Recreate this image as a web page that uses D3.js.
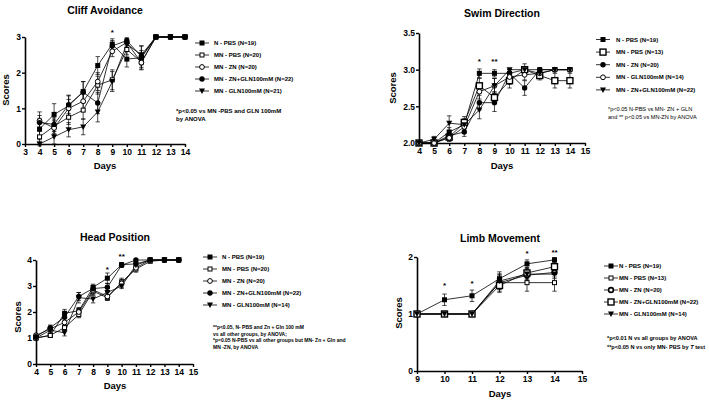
<!DOCTYPE html>
<html><head><meta charset="utf-8">
<script src="https://cdn.jsdelivr.net/npm/d3@7"></script>
<style>
body{margin:0;background:#fff;}
svg{font-family:"Liberation Sans",Arial,sans-serif;}
</style></head><body>
<svg id="c" width="709" height="400"></svg>
<script>
// ---------- DATA ----------
// Cliff Avoidance
const cliffDays = [4,5,6,7,8,9,10,11,12,13,14];
const cliffXTicks = [3,4,5,6,7,8,9,10,11,12,13,14];
const cliffYTicks = [0,1,2,3];
const cliffNames = ["N - PBS (N=19)","MN - PBS (N=20)","MN - ZN (N=20)","MN - ZN+GLN100mM (N=22)","MN - GLN100mM (N=21)"];
const cliffNPBS     = [0.42,0.83,1.07,1.47,2.20,2.80,2.38,2.42,3,3,3];
const cliffNPBSErr  = [0.30,0.30,0.30,0.28,0.25,0.15,0.22,0.20,0,0,0];
const cliffMNPBS    = [0.20,0.50,0.75,0.95,1.65,1.80,2.65,2.30,3,3,3];
const cliffMNPBSErr = [0.15,0.20,0.20,0.25,0.25,0.28,0.15,0.20,0,0,0];
const cliffZN       = [0.65,0.45,1.00,1.20,1.75,2.60,2.85,2.28,3,3,3];
const cliffZNErr    = [0.25,0.20,0.25,0.25,0.25,0.15,0.10,0.20,0,0,0];
const cliffZNGLN    = [0.60,0.55,1.10,1.45,1.15,2.75,2.90,2.45,3,3,3];
const cliffZNGLNErr = [0.20,0.20,0.25,0.30,0.30,0.15,0.08,0.30,0,0,0];
const cliffGLN      = [0.00,0.20,0.40,0.48,0.90,1.75,2.80,2.50,3,3,3];
const cliffGLNErr   = [0.05,0.20,0.20,0.22,0.28,0.28,0.10,0.25,0,0,0];
const cliffStars = [{day:9,text:"*",v:3.05}];
const cliffNote = ["*p<0.05 vs MN -PBS and GLN 100mM","by ANOVA"];

// Swim Direction
const swimDays = [4,5,6,7,8,9,10,11,12,13,14];
const swimXTicks = [4,5,6,7,8,9,10,11,12,13,14,15];
const swimYTicks = [2.0,2.5,3.0,3.5];
const swimNames = ["N - PBS (N=19)","MN - PBS (N=13)","MN - ZN (N=20)","MN - GLN100mM (N=14)","MN - ZN+GLN100mM (N=22)"];
const swimNPBS     = [2.00,2.00,2.15,2.25,2.95,2.95,2.95,3.00,3.00,3.00,3.00];
const swimNPBSErr  = [0,0.04,0.06,0.06,0.06,0.05,0.05,0,0,0,0];
const swimMNPBS    = [2.00,2.00,2.08,2.28,2.78,2.62,2.85,3.00,2.92,2.85,2.85];
const swimMNPBSErr = [0,0,0.05,0.08,0.10,0.08,0.10,0.08,0.06,0.10,0.10];
const swimZN       = [2.00,2.00,2.10,2.15,2.55,2.55,2.95,2.75,3.00,3.00,3.00];
const swimZNErr    = [0,0,0.05,0.06,0.10,0.12,0.05,0.10,0,0,0];
const swimGLN      = [2.00,2.00,2.07,2.22,2.70,2.78,2.90,2.93,2.95,3.00,3.00];
const swimGLNErr   = [0,0,0.05,0.08,0.10,0.10,0.10,0.07,0.05,0,0];
const swimZNGLN    = [2.00,2.05,2.27,2.25,2.45,2.78,3.00,3.00,2.95,3.00,3.00];
const swimZNGLNErr = [0,0.04,0.10,0.08,0.12,0.10,0,0,0.05,0,0];
const swimStars = [{day:8,text:"*",v:3.08},{day:9,text:"**",v:3.08}];
const swimNote = ["*p<0.05 N-PBS vs MN- ZN + GLN","and  ** p<0.05 vs MN-ZN by ANOVA"];

// Head Position
const headDays = [4,5,6,7,8,9,10,11,12,13,14];
const headXTicks = [4,5,6,7,8,9,10,11,12,13,14,15];
const headYTicks = [0,1,2,3,4];
const headNames = ["N - PBS (N=19)","MN - PBS (N=20)","MN - ZN (N=20)","MN - ZN+GLN100mM (N=22)","MN - GLN100mM (N=14)"];
const headNPBS     = [1.00,1.10,1.95,2.05,2.95,3.30,3.82,3.85,4,4,4];
const headNPBSErr  = [0.05,0.08,0.15,0.12,0.12,0.20,0.08,0.08,0,0,0];
const headMNPBS    = [1.00,1.10,1.40,1.90,2.80,2.55,3.15,3.65,3.95,4,4];
const headMNPBSErr = [0.05,0.08,0.12,0.12,0.15,0.10,0.15,0.12,0.05,0,0];
const headZN       = [1.10,1.35,1.60,2.00,2.85,2.60,3.10,3.70,4,4,4];
const headZNErr    = [0.08,0.10,0.15,0.15,0.15,0.15,0.15,0.10,0,0,0];
const headZNGLN    = [1.05,1.40,1.80,2.60,2.90,2.95,3.80,4.00,4,4,4];
const headZNGLNErr = [0.08,0.10,0.15,0.15,0.12,0.15,0.08,0,0,0,0];
const headGLN      = [1.00,1.30,1.20,2.55,2.50,2.75,3.00,3.80,4,4,4];
const headGLNErr   = [0.05,0.10,0.12,0.20,0.15,0.15,0.10,0.10,0,0,0];
const headStars = [{day:9,text:"*",v:3.55},{day:10,text:"**",v:4.05}];
const headNote = ["**p<0.05, N- PBS and Zn + Gln 100 mM","vs all other groups, by ANOVA;","*p=0.05 N-PBS vs all other groups but MN- Zn + Gln and","MN -ZN, by ANOVA"];

// Limb Movement
const limbDays = [9,10,11,12,13,14];
const limbXTicks = [9,10,11,12,13,14,15];
const limbYTicks = [0,1,2];
const limbNames = ["N - PBS (N=19)","MN - PBS (N=13)","MN - ZN (N=20)","MN - ZN+GLN100mM (N=22)","MN - GLN100mM (N=14)"];
const limbNPBS     = [1,1.25,1.32,1.62,1.88,1.95];
const limbNPBSErr  = [0,0.10,0.10,0.12,0.07,0.04];
const limbMNPBS    = [1,1.00,1.00,1.55,1.55,1.55];
const limbMNPBSErr = [0,0,0,0.15,0.15,0.15];
const limbZN       = [1,1.00,1.00,1.55,1.68,1.73];
const limbZNErr    = [0,0,0,0.12,0.10,0.08];
const limbZNGLN    = [1,1.00,1.00,1.50,1.72,1.83];
const limbZNGLNErr = [0,0,0,0.12,0.10,0.08];
const limbGLN      = [1,1.00,1.00,1.58,1.70,1.70];
const limbGLNErr   = [0,0,0,0.12,0.10,0.08];
const limbStars = [{day:10,text:"*",v:1.45},{day:11,text:"*",v:1.5},{day:13,text:"*",v:2.02},{day:14,text:"**",v:2.04}];
const limbNote = ["*p<0.01 N vs all groups by ANOVA","**p<0.05 N vs only MN- PBS by T test"];

// ---------- DRAWING ----------
const svg = d3.select("#c");

function drawSymbol(g, type, x, y) {
  const s = 2.5;
  if (type === "sq") g.append("rect").attr("x",x-s).attr("y",y-s).attr("width",2*s).attr("height",2*s).attr("fill","#000");
  else if (type === "osq") g.append("rect").attr("x",x-s+0.5).attr("y",y-s+0.5).attr("width",2*s-1).attr("height",2*s-1).attr("fill","#fff").attr("stroke","#000").attr("stroke-width",1);
  else if (type === "bosq") g.append("rect").attr("x",x-3).attr("y",y-3).attr("width",6).attr("height",6).attr("fill","#fff").attr("stroke","#000").attr("stroke-width",1.4);
  else if (type === "oc") g.append("circle").attr("cx",x).attr("cy",y).attr("r",2.4).attr("fill","#fff").attr("stroke","#000").attr("stroke-width",1);
  else if (type === "boc") g.append("circle").attr("cx",x).attr("cy",y).attr("r",2.4).attr("fill","#fff").attr("stroke","#000").attr("stroke-width",1.6);
  else if (type === "c") g.append("circle").attr("cx",x).attr("cy",y).attr("r",2.7).attr("fill","#000");
  else if (type === "tri") g.append("path").attr("d",`M${x-3},${y-2.5}L${x+3},${y-2.5}L${x},${y+3}Z`).attr("fill","#000");
}

function panel(cfg) {
  const g = svg.append("g");
  const x = d3.scaleLinear().domain(cfg.xd).range(cfg.xr);
  const y = d3.scaleLinear().domain(cfg.yd).range(cfg.yr);

  const xa = g.append("g").attr("transform",`translate(0,${cfg.yr[0]})`)
    .call(d3.axisBottom(x).tickValues(cfg.xticks).tickSize(3).tickSizeOuter(0).tickFormat(d3.format("d")));
  const ya = g.append("g").attr("transform",`translate(${cfg.xr[0]},0)`)
    .call(d3.axisLeft(y).tickValues(cfg.yticks).tickSize(3).tickSizeOuter(0).tickFormat(d3.format(cfg.yfmt)));
  [xa,ya].forEach(a=>{
    a.select(".domain").attr("stroke","#000").attr("stroke-width",1.6);
    a.selectAll(".tick line").attr("stroke","#000").attr("stroke-width",1.4);
    a.selectAll(".tick text").attr("fill","#000").attr("font-size",8.5).attr("font-weight","bold")
     .attr("font-family",'"Liberation Sans",Arial,sans-serif');
  });
  xa.selectAll(".tick text").attr("y",5);
  ya.selectAll(".tick text").attr("x",-4);

  g.append("text").attr("x",cfg.titleX).attr("y",cfg.titleY).attr("text-anchor","middle")
    .attr("font-size",10.5).attr("font-weight","bold").text(cfg.title);
  g.append("text").attr("x",cfg.daysX).attr("y",cfg.daysY).attr("text-anchor","middle")
    .attr("font-size",9.5).attr("font-weight","bold").text("Days");
  g.append("text").attr("transform",`translate(${cfg.scoresX},${cfg.scoresY}) rotate(-90)`).attr("text-anchor","middle")
    .attr("font-size",9.5).attr("font-weight","bold").text("Scores");

  const line = d3.line().x((d,i)=>x(cfg.days[i])).y(d=>y(d));
  cfg.series.forEach(s=>{
    g.append("path").datum(s.v).attr("d",line).attr("fill","none").attr("stroke","#000").attr("stroke-width",0.8);
  });
  cfg.series.forEach(s=>{
    s.v.forEach((v,i)=>{
      const e = s.e[i]; if (!e) return;
      const xx = x(cfg.days[i]);
      g.append("line").attr("x1",xx).attr("x2",xx).attr("y1",y(v-e)).attr("y2",y(v+e)).attr("stroke","#000").attr("stroke-width",0.7);
      [v-e,v+e].forEach(t=>g.append("line").attr("x1",xx-2.2).attr("x2",xx+2.2).attr("y1",y(t)).attr("y2",y(t)).attr("stroke","#000").attr("stroke-width",0.7));
    });
  });
  cfg.series.forEach(s=>{
    s.v.forEach((v,i)=>drawSymbol(g, s.sym, x(cfg.days[i]), y(v)));
  });
  cfg.stars.forEach(st=>{
    g.append("text").attr("x",x(st.day)).attr("y",y(st.v)).attr("text-anchor","middle")
      .attr("font-size",8).attr("font-weight","bold").text(st.text);
  });

  // legend
  cfg.series.forEach((s,i)=>{
    const ly = cfg.legY + i*cfg.legDy;
    g.append("line").attr("x1",cfg.legX-7).attr("x2",cfg.legX+7).attr("y1",ly).attr("y2",ly).attr("stroke","#000").attr("stroke-width",0.8);
    drawSymbol(g, s.sym, cfg.legX, ly);
    g.append("text").attr("x",cfg.legTextX).attr("y",ly+2).attr("font-size",cfg.legFs).attr("font-weight","bold").text(cfg.names[i]);
  });
  cfg.note.forEach((t,i)=>{
    const tx = g.append("text").attr("x",cfg.noteX).attr("y",cfg.noteY + i*cfg.noteDy).attr("font-size",cfg.noteFs)
      .attr("font-weight",cfg.noteW);
    if (t.indexOf(" T test")>=0) {
      const parts = t.split(" T test");
      tx.append("tspan").text(parts[0]+" ");
      tx.append("tspan").attr("font-style","italic").text("T");
      tx.append("tspan").text(" test");
    } else tx.text(t);
  });
}

panel({
  title:"Cliff Avoidance", titleX:105, titleY:14,
  xd:[3,14], xr:[25,185], yd:[0,3], yr:[144,37], yfmt:"d",
  xticks:cliffXTicks, yticks:cliffYTicks, days:cliffDays,
  daysX:105, daysY:169, scoresX:9, scoresY:90,
  series:[
    {v:cliffNPBS,e:cliffNPBSErr,sym:"sq"},
    {v:cliffMNPBS,e:cliffMNPBSErr,sym:"osq"},
    {v:cliffZN,e:cliffZNErr,sym:"oc"},
    {v:cliffZNGLN,e:cliffZNGLNErr,sym:"c"},
    {v:cliffGLN,e:cliffGLNErr,sym:"tri"}],
  names:cliffNames, stars:cliffStars,
  legX:202, legTextX:214, legY:43, legDy:12, legFs:6,
  note:cliffNote, noteX:176, noteY:113, noteDy:8, noteFs:6, noteW:"bold"
});

panel({
  title:"Swim Direction", titleX:502, titleY:17,
  xd:[4,15], xr:[419,585], yd:[2,3.5], yr:[143,33], yfmt:".1f",
  xticks:swimXTicks, yticks:swimYTicks, days:swimDays,
  daysX:502, daysY:169, scoresX:396, scoresY:88,
  series:[
    {v:swimNPBS,e:swimNPBSErr,sym:"sq"},
    {v:swimMNPBS,e:swimMNPBSErr,sym:"bosq"},
    {v:swimZN,e:swimZNErr,sym:"c"},
    {v:swimGLN,e:swimGLNErr,sym:"oc"},
    {v:swimZNGLN,e:swimZNGLNErr,sym:"tri"}],
  names:swimNames, stars:swimStars,
  legX:603, legTextX:616, legY:39.5, legDy:12.6, legFs:6,
  note:swimNote, noteX:608, noteY:111, noteDy:7.5, noteFs:5.6, noteW:"normal"
});

panel({
  title:"Head Position", titleX:115, titleY:241,
  xd:[4,15], xr:[36,193], yd:[0,4], yr:[364,260], yfmt:"d",
  xticks:headXTicks, yticks:headYTicks, days:headDays,
  daysX:115, daysY:389, scoresX:21, scoresY:317,
  series:[
    {v:headNPBS,e:headNPBSErr,sym:"sq"},
    {v:headMNPBS,e:headMNPBSErr,sym:"osq"},
    {v:headZN,e:headZNErr,sym:"oc"},
    {v:headZNGLN,e:headZNGLNErr,sym:"c"},
    {v:headGLN,e:headGLNErr,sym:"tri"}],
  names:headNames, stars:headStars,
  legX:210, legTextX:222, legY:257, legDy:12, legFs:6,
  note:headNote, noteX:213, noteY:329, noteDy:6.5, noteFs:5, noteW:"bold"
});

panel({
  title:"Limb Movement", titleX:500, titleY:242,
  xd:[9,15], xr:[417,582], yd:[0,2], yr:[371,257], yfmt:"d",
  xticks:limbXTicks, yticks:limbYTicks, days:limbDays,
  daysX:500, daysY:397, scoresX:402, scoresY:313,
  series:[
    {v:limbNPBS,e:limbNPBSErr,sym:"sq"},
    {v:limbMNPBS,e:limbMNPBSErr,sym:"osq"},
    {v:limbZN,e:limbZNErr,sym:"boc"},
    {v:limbZNGLN,e:limbZNGLNErr,sym:"bosq"},
    {v:limbGLN,e:limbGLNErr,sym:"tri"}],
  names:limbNames, stars:limbStars,
  legX:611, legTextX:619, legY:266, legDy:12, legFs:6,
  note:limbNote, noteX:607, noteY:340, noteDy:9, noteFs:5.6, noteW:"bold"
});
</script>
</body></html>
